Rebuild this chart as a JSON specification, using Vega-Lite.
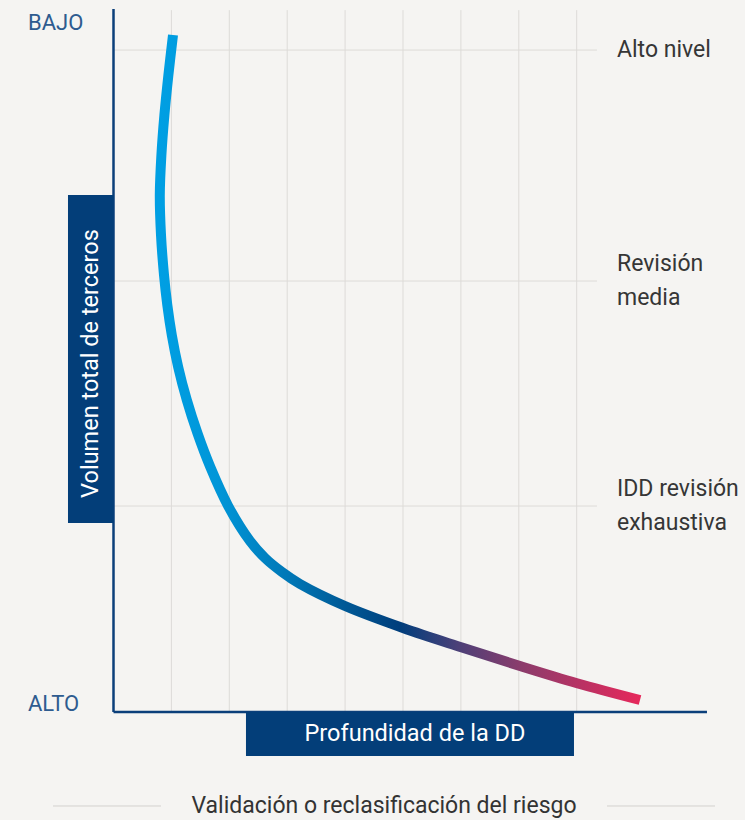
{
  "$schema": "https://vega.github.io/schema/vega-lite/v6.json",
  "width": 745,
  "height": 820,
  "autosize": {"type": "fit", "contains": "padding"},
  "padding": 0,
  "background": "#f5f4f2",
  "config": {"view": {"stroke": null}, "font": "Roboto"},
  "datasets": {
    "vgrid": [{"col": 1}, {"col": 2}, {"col": 3}, {"col": 4}, {"col": 5}, {"col": 6}, {"col": 7}, {"col": 8}],
    "tiers": [
      {"label": "Alto nivel", "lines": 1, "v": 9.403},
      {"label": "Revisión\nmedia", "lines": 2, "v": 6.122},
      {"label": "IDD revisión\nexhaustiva", "lines": 2, "v": 2.926}
    ],
    "curve": [
      {"step": 1, "depth": 1.0276, "volume": 9.6165},
      {"step": 2, "depth": 0.9482, "volume": 9.0483},
      {"step": 3, "depth": 0.8791, "volume": 8.4801},
      {"step": 4, "depth": 0.8273, "volume": 7.9119},
      {"step": 5, "depth": 0.7997, "volume": 7.3438},
      {"step": 6, "depth": 0.8204, "volume": 6.7756},
      {"step": 7, "depth": 0.8722, "volume": 6.2074},
      {"step": 8, "depth": 0.9292, "volume": 5.7813},
      {"step": 9, "depth": 1.0069, "volume": 5.3551},
      {"step": 10, "depth": 1.1174, "volume": 4.9006},
      {"step": 11, "depth": 1.2660, "volume": 4.4318},
      {"step": 12, "depth": 1.4491, "volume": 3.9631},
      {"step": 13, "depth": 1.6718, "volume": 3.4801},
      {"step": 14, "depth": 1.9810, "volume": 2.9261},
      {"step": 15, "depth": 2.3575, "volume": 2.4290},
      {"step": 16, "depth": 2.6166, "volume": 2.1875},
      {"step": 17, "depth": 2.9102, "volume": 1.9886},
      {"step": 18, "depth": 3.2211, "volume": 1.8182},
      {"step": 19, "depth": 3.9983, "volume": 1.5057},
      {"step": 20, "depth": 5.0000, "volume": 1.1932},
      {"step": 21, "depth": 6.0190, "volume": 0.9162},
      {"step": 22, "depth": 7.0207, "volume": 0.6534},
      {"step": 23, "depth": 8.0052, "volume": 0.4091},
      {"step": 24, "depth": 9.0933, "volume": 0.1705}
    ],
    "axes": [
      {"axis": "vertical", "x": 0, "x2": 0, "y": 0, "y2": 9.986},
      {"axis": "horizontal", "x": 0, "x2": 10.25, "y": 0, "y2": 0}
    ],
    "ends": [
      {"label": "BAJO", "v": 9.787},
      {"label": "ALTO", "v": 0.107}
    ],
    "ytitle": [{"title": "Volumen total de terceros", "x": -0.786, "x2": 0, "y": 2.685, "y2": 7.344, "tx": -0.389, "ty": 4.95}],
    "xtitle": [{"title": "Profundidad de la DD", "x": 2.288, "x2": 7.953, "y": 0, "y2": -0.625, "tx": 5.207, "ty": -0.3125}],
    "caption": [{"text": "Validación o reclasificación del riesgo", "x": 4.672, "y": -1.335}],
    "captionLines": [
      {"side": "left", "x": -1.045, "x2": 0.82, "y": -1.335},
      {"side": "right", "x": 8.523, "x2": 10.389, "y": -1.335}
    ]
  },
  "layer": [
    {
      "data": {"name": "vgrid"},
      "mark": {"type": "rule", "stroke": "#dddbd8", "strokeWidth": 1},
      "encoding": {
        "x": {"field": "col", "type": "quantitative", "scale": {"domain": [-1.9603, 10.9067], "nice": false, "zero": false}, "axis": null},
        "y": {"datum": 0, "type": "quantitative", "scale": {"domain": [-1.534, 10.114], "nice": false, "zero": false}, "axis": null},
        "y2": {"datum": 9.97}
      }
    },
    {
      "data": {"name": "tiers"},
      "mark": {"type": "rule", "stroke": "#dddbd8", "strokeWidth": 1},
      "encoding": {
        "y": {"field": "v", "type": "quantitative", "axis": null},
        "x": {"datum": 0, "type": "quantitative", "axis": null},
        "x2": {"datum": 8.35}
      }
    },
    {
      "data": {"name": "tiers"},
      "transform": [{"filter": "datum.lines == 1"}],
      "mark": {"type": "text", "align": "left", "baseline": "middle", "fontSize": 23, "color": "#363636"},
      "encoding": {
        "y": {"field": "v", "type": "quantitative", "axis": null},
        "x": {"datum": 8.696, "type": "quantitative", "axis": null},
        "text": {"field": "label"}
      }
    },
    {
      "data": {"name": "tiers"},
      "transform": [{"filter": "datum.lines == 2"}],
      "mark": {"type": "text", "align": "left", "baseline": "middle", "fontSize": 23, "lineHeight": 33.5, "lineBreak": "\n", "dy": -16.75, "color": "#363636"},
      "encoding": {
        "y": {"field": "v", "type": "quantitative", "axis": null},
        "x": {"datum": 8.696, "type": "quantitative", "axis": null},
        "text": {"field": "label"}
      }
    },
    {
      "data": {"name": "axes"},
      "mark": {"type": "rule", "stroke": "#0b3f7a", "strokeWidth": 2.5},
      "encoding": {
        "x": {"field": "x", "type": "quantitative", "axis": null},
        "x2": {"field": "x2"},
        "y": {"field": "y", "type": "quantitative", "axis": null},
        "y2": {"field": "y2"}
      }
    },
    {
      "data": {"name": "curve"},
      "mark": {
        "type": "line",
        "interpolate": "catmull-rom",
        "strokeWidth": 10,
        "strokeCap": "butt",
        "color": {
          "gradient": "linear",
          "x1": 0, "y1": 0, "x2": 1, "y2": 0,
          "stops": [
            {"offset": 0, "color": "#009fe3"},
            {"offset": 0.12, "color": "#0096d8"},
            {"offset": 0.27, "color": "#0077b6"},
            {"offset": 0.38, "color": "#005a97"},
            {"offset": 0.5, "color": "#003e7c"},
            {"offset": 0.62, "color": "#4b4078"},
            {"offset": 0.75, "color": "#8a3c6c"},
            {"offset": 1, "color": "#e6285b"}
          ]
        }
      },
      "encoding": {
        "x": {"field": "depth", "type": "quantitative", "axis": null},
        "y": {"field": "volume", "type": "quantitative", "axis": null},
        "order": {"field": "step", "type": "quantitative"}
      }
    },
    {
      "data": {"name": "ytitle"},
      "mark": {"type": "rect", "color": "#033e79"},
      "encoding": {
        "x": {"field": "x", "type": "quantitative", "axis": null},
        "x2": {"field": "x2"},
        "y": {"field": "y", "type": "quantitative", "axis": null},
        "y2": {"field": "y2"}
      }
    },
    {
      "data": {"name": "ytitle"},
      "mark": {"type": "text", "angle": 270, "align": "center", "baseline": "middle", "fontSize": 23.5, "color": "#ffffff"},
      "encoding": {
        "x": {"field": "tx", "type": "quantitative", "axis": null},
        "y": {"field": "ty", "type": "quantitative", "axis": null},
        "text": {"field": "title"}
      }
    },
    {
      "data": {"name": "xtitle"},
      "mark": {"type": "rect", "color": "#033e79"},
      "encoding": {
        "x": {"field": "x", "type": "quantitative", "axis": null},
        "x2": {"field": "x2"},
        "y": {"field": "y", "type": "quantitative", "axis": null},
        "y2": {"field": "y2"}
      }
    },
    {
      "data": {"name": "xtitle"},
      "mark": {"type": "text", "align": "center", "baseline": "middle", "fontSize": 23.5, "color": "#ffffff"},
      "encoding": {
        "x": {"field": "tx", "type": "quantitative", "axis": null},
        "y": {"field": "ty", "type": "quantitative", "axis": null},
        "text": {"field": "title"}
      }
    },
    {
      "data": {"name": "ends"},
      "mark": {"type": "text", "align": "left", "baseline": "middle", "fontSize": 22, "color": "#2e5b8f"},
      "encoding": {
        "x": {"datum": -1.477, "type": "quantitative", "axis": null},
        "y": {"field": "v", "type": "quantitative", "axis": null},
        "text": {"field": "label"}
      }
    },
    {
      "data": {"name": "captionLines"},
      "mark": {"type": "rule", "stroke": "#d3d1ce", "strokeWidth": 1},
      "encoding": {
        "x": {"field": "x", "type": "quantitative", "axis": null},
        "x2": {"field": "x2"},
        "y": {"field": "y", "type": "quantitative", "axis": null}
      }
    },
    {
      "data": {"name": "caption"},
      "mark": {"type": "text", "align": "center", "baseline": "middle", "fontSize": 23, "color": "#333333"},
      "encoding": {
        "x": {"field": "x", "type": "quantitative", "axis": null},
        "y": {"field": "y", "type": "quantitative", "axis": null},
        "text": {"field": "text"}
      }
    }
  ]
}
